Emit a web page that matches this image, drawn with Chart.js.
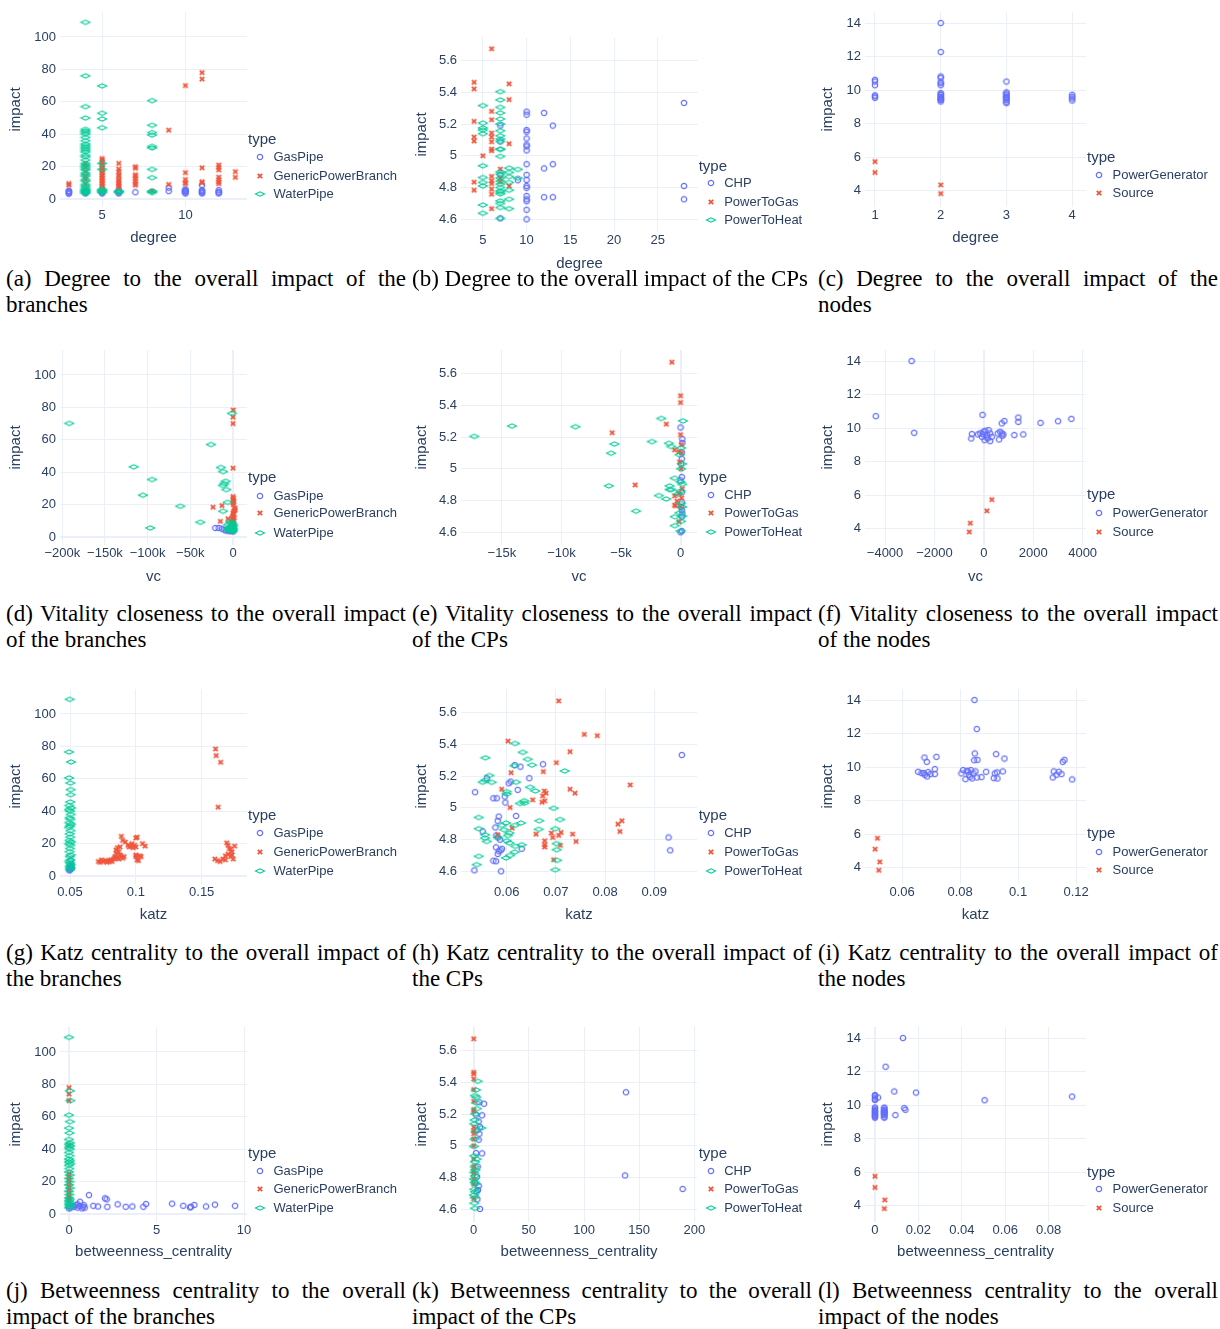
<!DOCTYPE html>
<html>
<head>
<meta charset="utf-8">
<script src="https://cdn.jsdelivr.net/npm/chart.js@4.4.1/dist/chart.umd.min.js"></script>
<style>
body { margin: 0; background: #fff; }
#page { position: relative; width: 1220px; height: 1329px; overflow: hidden; background: #fff; }
#page canvas { position: absolute; }
.lbl { position: absolute; font-family: "Liberation Sans", Arial, sans-serif; color: #2a3f5f; white-space: nowrap; }
.legtitle { font-size: 15px; line-height: 18px; }
.legitem { font-size: 13px; line-height: 16px; }
.cap { position: absolute; width: 400px; font-family: "Liberation Serif", "Times New Roman", serif; font-size: 23px; line-height: 26px; text-align: justify; color: #000; }
</style>
</head>
<body>
<div id="page"></div>
<script>
// series names
var branchTypes = ["GasPipe", "GenericPowerBranch", "WaterPipe"];
var cpTypes = ["CHP", "PowerToGas", "PowerToHeat"];
var nodeTypes = ["PowerGenerator", "Source"];

// tick values
var branchYTicks = [0, 20, 40, 60, 80, 100];
var cpYTicks = [4.6, 4.8, 5, 5.2, 5.4, 5.6];
var nodeYTicks = [4, 6, 8, 10, 12, 14];
var degBranchTicks = [5, 10];
var degCpTicks = [5, 10, 15, 20, 25];
var degNodeTicks = [1, 2, 3, 4];
var vcBranchTicks = [-200000, -150000, -100000, -50000, 0];
var vcCpTicks = [-15000, -10000, -5000, 0];
var vcNodeTicks = [-4000, -2000, 0, 2000, 4000];
var katzBranchTicks = [0.05, 0.1, 0.15];
var katzCpTicks = [0.06, 0.07, 0.08, 0.09];
var katzNodeTicks = [0.06, 0.08, 0.1, 0.12];
var btwBranchTicks = [0, 5, 10];
var btwCpTicks = [0, 50, 100, 150, 200];
var btwNodeTicks = [0, 0.02, 0.04, 0.06, 0.08];

// (a) degree vs impact, branches
var aGas = [[3,3.3],[3,3.8],[3,4.3],[3,4.8],[3,5.1],[4,3.5],[4,4],[4,4.5],[4,5],[5,3.5],[5,4],[5,4.5],[5,5],[5,5.5],
  [6,3.5],[6,4],[6,4.5],[6,5],[6,5.5],[7,4.2],[9,4.9],[9,7],[10,3.5],[10,4],[10,4.5],[10,5],[10,5.5],[10,6],
  [11,3.5],[11,4],[11,4.5],[11,5],[11,5.5],[11,8.6],[12,3.5],[12,4],[12,4.5],[12,5.5]];
var aPower = [[3,8.6],[3,9.6],[4,9],[4,12],[4,14],[4,17],[4,20],[4,22],
  [5,5],[5,6],[5,7],[5,8],[5,9],[5,10],[5,11],[5,12],[5,13],[5,14],[5,15],[5,16],[5,17],[5,18],[5,19],[5,20],[5,21],[5,22],[5,23],[5,24],[5,25],
  [6,7],[6,8],[6,9],[6,10],[6,11],[6,12],[6,14],[6,15],[6,17],[6,18.5],[6,22],
  [7,8.5],[7,9.5],[7,11],[7,12.5],[7,14],[7,15],[7,19],[7,20],[8,5],[9,9],[9,42.5],
  [10,9.5],[10,10.2],[10,12],[10,16.3],[10,70],[11,10],[11,10.7],[11,19.3],[11,74],[11,78],
  [12,9.5],[12,10.5],[12,12],[12,13.5],[12,18],[12,19.5],[12,21],[13,13.4],[13,16.9]];
var aWater = [[4,3.5],[4,4],[4,4.5],[4,5],[4,5.5],[4,6],[4,7],[4,8],[4,9],[4,11],[4,12],[4,14],[4,15],[4,16],[4,18],[4,19],
  [4,20],[4,21],[4,22],[4,24],[4,26],[4,27],[4,29],[4,30],[4,31],[4,32],[4,33],[4,34],[4,36],[4,38],[4,40],[4,41],[4,42],[4,43],
  [4,50],[4,57],[4,76],[4,109],[5,4],[5,4.5],[5,5],[5,5.5],[5,6],[5,18.3],[5,22],[5,44],[5,49.4],[5,52.9],[5,69.8],
  [6,4],[6,4.5],[6,5],[8,4],[8,4.5],[8,5],[8,13.2],[8,18.3],[8,31.5],[8,32.5],[8,39.5],[8,41],[8,45.5],[8,60.7]];

// (b) degree vs impact, CPs
var bChp = [[7,4.606],[7,4.88],[7,5.09],[7,5.19],[9,4.846],[10,4.6],[10,4.66],[10,4.714],[10,4.726],[10,4.747],[10,4.798],
  [10,4.81],[10,4.848],[10,4.88],[10,4.947],[10,5.034],[10,5.059],[10,5.07],[10,5.109],[10,5.152],[10,5.162],[10,5.259],[10,5.278],
  [12,4.739],[12,4.92],[12,5.27],[13,4.739],[13,4.947],[13,5.19],[28,4.726],[28,4.81],[28,5.333]];
var bGas = [[4,4.783],[4,4.834],[4,5.093],[4,5.118],[4,5.217],[4,5.421],[4,5.463],[5,5.0],
  [6,4.667],[6,4.758],[6,4.79],[6,4.825],[6,4.842],[6,4.87],[6,5.032],[6,5.042],[6,5.088],[6,5.118],[6,5.143],[6,5.227],[6,5.28],[6,5.674],
  [7,4.836],[7,4.859],[7,4.916],[8,4.81],[8,5.076],[8,5.354],[8,5.453]];
var bHeat = [[5,4.638],[5,4.69],[5,4.81],[5,4.832],[5,4.863],[5,4.937],[5,5.139],[5,5.162],[5,5.175],[5,5.206],[5,5.316],
  [7,4.606],[7,4.674],[7,4.7],[7,4.716],[7,4.76],[7,4.77],[7,4.779],[7,4.8],[7,4.821],[7,4.84],[7,4.859],[7,4.884],[7,4.899],
  [7,4.996],[7,5.04],[7,5.042],[7,5.09],[7,5.105],[7,5.126],[7,5.158],[7,5.2],[7,5.232],[7,5.27],[7,5.305],[7,5.352],[7,5.404],
  [8,4.667],[8,4.726],[8,4.783],[8,4.832],[8,4.869],[8,4.895],[8,4.922],[9,4.859],[9,4.914]];

// (c) degree vs impact, nodes
var cGen = [[1,9.54],[1,9.62],[1,9.68],[1,10.29],[1,10.51],[1,10.61],
  [2,9.32],[2,9.4],[2,9.45],[2,9.5],[2,9.55],[2,9.6],[2,9.7],[2,9.75],[2,9.82],[2,10.29],[2,10.41],[2,10.47],[2,10.73],[2,10.81],[2,12.27],[2,14.0],
  [3,9.22],[3,9.3],[3,9.4],[3,9.5],[3,9.55],[3,9.6],[3,9.7],[3,9.8],[3,9.86],[3,10.51],[4,9.38],[4,9.5],[4,9.6],[4,9.72]];
var cSrc = [[1,5.08],[1,5.73],[2,3.82],[2,4.34]];

// (d) vitality closeness vs impact, branches
var dGas = [[-20700,5.6],[-16800,5.6],[-12900,5.2],[-10200,4.5],[-8000,4],[-6000,4.2],[-4000,3.6],[-3000,4],[-2000,3.8],
  [-1000,4.5],[0,4],[500,3.5],[-500,5],[-1500,5.5],[-2500,4.8],[200,5.2]];
var dPower = [[-23400,18.4],[-12900,19.4],[-14800,9.7],[-5900,11.3],[-2000,9.5],[-1000,12],[0,7],[1000,8],[0,9],[500,10],
  [0,11],[1500,12],[0,13],[500,14],[0,15],[1000,16],[2000,16.5],[2500,17],[2000,18],[500,20],[0,21],[1000,22],[0,23],[500,24],[0,25],
  [0,42.5],[0,70],[0,74],[300,78.4]];
var dWater = [[-191800,70.1],[-116400,43.3],[-105500,25.8],[-96900,5.6],[-94900,35.5],[-61700,19.0],[-38300,9.1],[-25800,57.1],
  [-14100,42.9],[-11700,40.4],[-10200,33.0],[-11700,31.8],[-8600,34.4],[-7800,29.3],[-6300,21.4],[-11700,15.9],[-5500,7.6],[-1200,76.3],
  [-6000,4.8],[-4500,5.5],[-4000,4],[-3500,9],[-3000,5],[-2500,6.5],[-2000,6],[-2000,9.5],[-1500,5],[-1000,7],[-1000,3.8],
  [-500,8],[-300,3.5],[0,4.5],[0,7],[0,5.5]];

// (e) vitality closeness vs impact, CPs
var eChp = [[0,4.6],[100,4.608],[100,4.698],[150,4.719],[100,4.74],[50,4.76],[100,4.79],[100,4.852],[0,4.927],[100,4.948],
  [50,5.031],[100,5.063],[100,5.104],[150,5.163],[150,5.187],[0,5.26]];
var eGas = [[-730,5.671],[0,5.46],[0,5.417],[-1200,5.281],[-5740,5.227],[0,5.215],[80,5.152],[-500,5.119],[-140,5.108],[80,5.1],
  [-80,5.042],[50,5.0],[-3810,4.898],[140,4.875],[-140,4.844],[-500,4.829],[80,4.817],[-300,4.796],[-500,4.771],[-420,4.767],
  [0,4.765],[-140,4.667]];
var eHeat = [[-17310,5.204],[-14150,5.269],[-8820,5.265],[-5550,5.156],[-5830,5.098],[-6020,4.892],[-3730,4.733],[-2410,5.171],
  [-1620,5.317],[-980,5.16],[-780,5.14],[-500,4.94],[-1820,4.831],[-1200,4.81],[-920,4.892],[-780,4.869],[-920,4.869],[-480,4.698],
  [-480,4.642],[200,5.302],[50,5.131],[-80,5.088],[140,5.031],[50,5.0],[0,4.917],[140,4.902],[0,4.86],[-220,4.84],[50,4.781],
  [140,4.76],[-80,4.723],[140,4.702],[50,4.669],[0,4.608]];

// (f) vitality closeness vs impact, nodes
var fGen = [[-2926,14.0],[-4376,10.71],[-2819,9.72],[-54,10.79],[-510,9.38],[-483,9.64],[-242,9.62],[-148,9.68],[-80,9.48],
  [-13,9.78],[54,9.84],[121,9.58],[161,9.38],[188,9.88],[255,9.68],[322,9.48],[27,9.28],[255,9.22],[121,9.44],[-40,9.64],
  [564,9.68],[617,9.32],[658,9.78],[725,9.68],[752,9.54],[792,9.62],[725,10.28],[832,10.42],[1235,9.58],[1396,10.63],
  [1396,10.37],[1597,9.62],[2295,10.31],[3007,10.41],[3544,10.55]];
var fSrc = [[-591,3.8],[-550,4.32],[121,5.06],[322,5.73]];

// (g) katz vs impact, branches
var gGas = [[0.0495,3.5],[0.05,4],[0.0505,4.5],[0.051,5.5],[0.0502,5],[0.0498,6],[0.0505,9.7],[0.0512,4.8],[0.0508,6.5],[0.0493,4.2]];
var gPower = [[0.0715,9],[0.073,8.5],[0.074,10],[0.075,9],[0.077,9.5],[0.078,8.5],[0.079,9.5],[0.08,9],[0.081,10],[0.082,9],
  [0.083,10.5],[0.084,11],[0.084,12],[0.085,14],[0.085,16],[0.086,17.5],[0.087,15],[0.088,13],[0.087,10.5],[0.089,12],
  [0.086,11.5],[0.088,18],[0.09,11],[0.091,12],[0.089,24.5],[0.09,22],[0.092,21],[0.094,19],[0.095,18],[0.096,18.5],
  [0.097,20],[0.098,17.5],[0.099,19],[0.1,23.5],[0.101,24],[0.1,18],[0.105,20],[0.107,18.5],[0.1,12],[0.101,10],
  [0.102,9.5],[0.103,12.5],[0.1,13],[0.104,12],[0.1605,78.4],[0.161,74.3],[0.1644,70.2],[0.1625,42.5],[0.16,10.5],
  [0.162,9.5],[0.164,9],[0.166,10.5],[0.168,10],[0.169,20.5],[0.17,19],[0.171,17],[0.172,16.5],[0.17,13.5],[0.172,12],
  [0.173,13],[0.174,10.5],[0.175,18.5],[0.173,15],[0.168,12.5]];
var gWater = [[0.0498,109],[0.0493,76.5],[0.0508,70.4],[0.0493,60.5],[0.0503,57.4],[0.0505,53.3],[0.0505,50.2],[0.0502,45.7],
  [0.0495,43.5],[0.0508,42],[0.0492,41],[0.05,40],[0.0505,38],[0.0497,36],[0.0502,35],[0.0495,33],[0.0507,32],[0.05,31],
  [0.0493,30],[0.0504,28],[0.0498,26],[0.0502,24],[0.0496,22],[0.0506,21],[0.0494,20],[0.0502,19],[0.05,17],[0.0497,15],
  [0.0505,13],[0.0499,12],[0.0503,10],[0.0495,9],[0.0501,8],[0.0506,7],[0.0498,6],[0.0502,5],[0.05,4]];

// (h) katz vs impact, CPs
var hChp = [[0.05357,5.098],[0.05594,5.186],[0.05729,5.06],[0.05797,5.06],[0.05959,5.071],[0.05973,5.033],[0.06041,5.154],
  [0.06081,5.165],[0.06163,5.269],[0.06278,5.259],[0.06223,5.113],[0.0646,5.186],[0.06738,5.274],[0.0619,4.949],[0.05837,4.945],
  [0.05817,4.918],[0.0577,4.876],[0.05512,4.851],[0.05824,4.813],[0.05865,4.799],[0.05783,4.751],[0.05905,4.742],[0.05837,4.726],
  [0.05817,4.709],[0.05729,4.667],[0.05783,4.663],[0.05343,4.606],[0.05885,4.6],[0.06305,4.742],[0.09291,4.813],[0.09325,4.732],
  [0.09562,5.332],[0.05878,4.732],[0.0579,4.826]];
var hGas = [[0.06027,5.42],[0.06088,5.221],[0.05898,5.117],[0.06068,5.002],[0.06108,4.872],[0.05817,4.83],[0.06745,5.228],
  [0.07009,5.284],[0.07056,5.673],[0.07287,5.353],[0.07578,5.462],[0.07842,5.454],[0.07287,5.117],[0.07388,5.092],[0.06765,5.106],
  [0.06799,5.092],[0.06772,5.044],[0.06731,5.075],[0.06718,5.035],[0.06528,5.05],[0.06596,4.834],[0.06907,4.841],[0.06934,4.813],
  [0.07056,4.826],[0.07104,4.845],[0.0734,4.834],[0.07409,4.788],[0.0709,4.763],[0.06772,4.792],[0.06772,4.767],[0.06772,4.753],
  [0.06955,4.673],[0.08512,5.144],[0.08262,4.897],[0.08343,4.918],[0.08302,4.851]];
var hHeat = [[0.05567,5.315],[0.05512,5.161],[0.05567,5.173],[0.05648,5.203],[0.05695,5.16],[0.05431,4.939],[0.05431,4.868],
  [0.0556,4.83],[0.0556,4.809],[0.05594,4.788],[0.05431,4.694],[0.0539,4.642],[0.05817,4.813],[0.05898,4.889],[0.05946,4.862],
  [0.05986,4.904],[0.06027,4.826],[0.06,4.792],[0.06054,4.841],[0.06054,4.778],[0.05986,4.684],[0.06068,4.7],[0.06169,5.405],
  [0.06156,5.265],[0.0619,5.161],[0.06,5.102],[0.06,5.087],[0.06163,4.889],[0.06291,4.904],[0.06176,4.757],[0.06163,4.721],
  [0.06305,4.767],[0.06325,5.349],[0.06427,5.305],[0.06515,5.269],[0.06474,5.129],[0.06582,5.106],[0.06359,5.044],[0.06359,5.029],
  [0.06271,5.027],[0.06664,4.918],[0.06651,4.864],[0.06955,4.997],[0.06989,4.868],[0.07084,4.926],[0.07178,5.232],[0.07016,4.774],
  [0.07016,4.736],[0.07023,4.669],[0.06989,4.61]];

// (i) katz vs impact, nodes
var iGen = [[0.08494,14.0],[0.08575,12.27],[0.08506,10.81],[0.08483,10.41],[0.08598,10.43],[0.09241,10.77],[0.09529,10.51],
  [0.0677,10.57],[0.06851,10.31],[0.07184,10.61],[0.06552,9.72],[0.06667,9.64],[0.06747,9.64],[0.06782,9.54],[0.06862,9.44],
  [0.06897,9.7],[0.06977,9.58],[0.07126,9.88],[0.07126,9.58],[0.08046,9.62],[0.08103,9.82],[0.08184,9.28],[0.08229,9.78],
  [0.08276,9.74],[0.08299,9.54],[0.08345,9.42],[0.08368,9.82],[0.08414,9.32],[0.0846,9.62],[0.08529,9.74],[0.08586,9.38],
  [0.08736,9.4],[0.08897,9.72],[0.09161,9.34],[0.09195,9.62],[0.09276,9.68],[0.09287,9.32],[0.09471,9.74],[0.11195,9.38],
  [0.1123,9.74],[0.11322,9.54],[0.11402,9.72],[0.11494,9.58],[0.1154,10.31],[0.11598,10.43],[0.11862,9.26]];
var iSrc = [[0.05149,5.75],[0.05069,5.1],[0.0523,4.34],[0.05195,3.84]];

// (j) betweenness vs impact, branches
var jGas = [[0.1,4],[0.2,5],[0.3,4.5],[0.4,5.5],[0.5,4],[0.5,6],[0.6,5],[0.63,7.6],[0.75,3.5],[0.8,4.5],[0.85,5.5],[0.9,4],
  [1.14,11.7],[1.39,5.1],[1.66,4.7],[2.06,9.7],[2.15,9.1],[2.19,4.5],[2.78,6.0],[3.24,4.5],[3.62,4.7],[4.25,4.5],[4.4,6.2],
  [5.89,6.4],[6.53,5.1],[6.91,4.1],[6.97,4.5],[7.16,5.6],[7.83,4.7],[8.34,5.8],[9.49,5.1],[0,3.5],[0,5]];
var jPower = [[0,8],[0,9],[0,10],[0,11],[0,13],[0,15],[0,17],[0,19],[0,21],[0,23],[0,25],[0,42.5],[0,70],[0,74],[0,78]];
var jWater = [[0,109],[0.05,76],[0.08,70],[0,61],[0.05,57],[0,53],[0.03,50],[0,46],[0.05,44],[0,43],[0.06,42],[0,41],[0.04,40],
  [0,38],[0.03,36],[0,34],[0.05,33],[0,32],[0.07,31],[0,30],[0.02,28],[0,26],[0.04,24],[0,22],[0.03,20],[0,18],[0.05,16],
  [0,14],[0.02,12],[0,10],[0.04,9],[0,8],[0.03,7],[0,6],[0.05,5],[0,4]];

// (k) betweenness vs impact, CPs
var kChp = [[138,5.337],[137.2,4.813],[189.4,4.728],[9.4,5.265],[7.6,5.192],[5.1,5.274],[2.1,5.196],[4.5,5.154],[5.7,5.118],
  [3.3,5.101],[5.1,5.076],[4.5,5.038],[2.1,4.954],[7.6,4.952],[3.6,4.869],[3.0,4.806],[4.5,4.747],[3.9,4.722],[2.7,4.712],
  [3.3,4.663],[5.7,4.602],[1.2,4.768]];
var kGas = [[0,5.674],[0,5.463],[0,5.453],[0,5.421],[0,5.354],[0,5.28],[0,5.227],[0,5.217],[0,5.118],[0,5.093],[0,5.076],
  [0,5.042],[0,5.0],[0,4.916],[0,4.87],[0,4.842],[0,4.825],[0,4.79],[0,4.758],[0,4.667]];
var kHeat = [[3.6,5.406],[2.1,5.352],[1.2,5.316],[2.4,5.305],[2.7,5.27],[3.0,5.234],[1.5,5.2],[0.9,5.162],[0.6,5.139],[6.9,5.112],
  [1.8,5.09],[0.9,5.042],[0.3,4.996],[0.6,4.937],[2.7,4.916],[1.2,4.899],[0.9,4.869],[1.5,4.848],[0.6,4.832],[1.2,4.81],
  [0.3,4.79],[0.9,4.77],[1.8,4.76],[0.6,4.726],[1.2,4.71],[0.3,4.69],[0.9,4.674],[0.6,4.638],[1.2,4.606]];

// (l) betweenness vs impact, nodes
var lGen = [[0.0129,14.0],[0.0049,12.29],[0.0089,10.81],[0.0189,10.75],[0.0505,10.29],[0.0908,10.51],[0.0094,9.4],[0.0135,9.82],
  [0.014,9.72],[0.0014,10.45],[0,10.6],[0,10.55],[0,10.45],[0,10.35],[0,10.3],[0,9.85],[0,9.8],[0,9.7],[0,9.65],[0,9.6],[0,9.55],
  [0,9.5],[0,9.45],[0,9.4],[0,9.35],[0,9.3],[0,9.25],[0.0043,9.85],[0.0043,9.8],[0.0043,9.7],[0.0043,9.65],[0.0043,9.6],
  [0.0043,9.55],[0.0043,9.5],[0.0043,9.45],[0.0043,9.4],[0.0043,9.3],[0.0043,9.25]];
var lSrc = [[0,5.75],[0,5.08],[0.0045,4.34],[0.0043,3.82]];

// axis ranges
var branchY = [-4.9, 115.4];
var cpY = [4.52, 5.748];
var nodeY = [3.02, 14.66];

var TXT = "#2a3f5f";
var GRID = "#EBF0F8";
var SANS = '"Liberation Sans", Arial, sans-serif';
var PAD_T = 12, PAD_R = 16;

var page = document.getElementById("page");

function marker(kind) {
  var c = document.createElement("canvas");
  var g;
  if (kind == 0) {
    c.width = 8; c.height = 8;
    g = c.getContext("2d");
    g.strokeStyle = "#636efa"; g.lineWidth = 1.2;
    g.beginPath(); g.arc(4, 4, 2.7, 0, Math.PI * 2); g.stroke();
  } else if (kind == 1) {
    c.width = 8; c.height = 8;
    g = c.getContext("2d");
    g.strokeStyle = "#EF553B"; g.lineWidth = 1.8;
    g.beginPath(); g.moveTo(1.8, 1.8); g.lineTo(6.2, 6.2); g.moveTo(6.2, 1.8); g.lineTo(1.8, 6.2); g.stroke();
  } else {
    c.width = 12; c.height = 8;
    g = c.getContext("2d");
    g.strokeStyle = "#00cc96"; g.lineWidth = 1.1;
    g.beginPath(); g.moveTo(1.5, 4); g.lineTo(6, 1.8); g.lineTo(10.5, 4); g.lineTo(6, 6.2); g.closePath(); g.stroke();
  }
  return c;
}
var markers = [marker(0), marker(1), marker(2)];

function fmt(v, k) {
  var s;
  if (k && v != 0) s = Math.round(v / 1000) + "k";
  else s = String(parseFloat(v.toPrecision(6)));
  return s.replace("-", "\u2212");
}

function useTicks(list) {
  return function (s) { s.ticks = list.map(function (v) { return { value: v }; }); };
}

function label(x, y, text, cls, h) {
  var d = document.createElement("div");
  d.className = "lbl " + cls;
  d.style.left = x + "px";
  d.style.top = (y - h / 2) + "px";
  d.textContent = text;
  page.appendChild(d);
}

function makePanel(p) {
  var left = p.col, top = p.py0 - PAD_T;
  var w = p.px1 + PAD_R - left, h = p.xTitleY + 12 - top;
  var cv = document.createElement("canvas");
  cv.width = w; cv.height = h;
  cv.style.left = left + "px"; cv.style.top = top + "px";
  cv.style.width = w + "px"; cv.style.height = h + "px";
  page.appendChild(cv);

  var datasets = p.data.map(function (d, i) {
    return {
      label: p.names[i],
      data: d,
      pointStyle: markers[i],
      pointRadius: 3,
      order: 3 - i
    };
  });

  var zeroWidth = function (c) { return c.tick && c.tick.value == 0 ? 2 : 1; };

  new Chart(cv, {
    type: "scatter",
    data: { datasets: datasets },
    options: {
      responsive: false,
      animation: false,
      events: [],
      layout: { padding: { top: PAD_T, right: PAD_R, left: 0, bottom: 0 } },
      plugins: { legend: { display: false }, tooltip: { enabled: false } },
      scales: {
        x: {
          type: "linear", min: p.xr[0], max: p.xr[1],
          afterBuildTicks: useTicks(p.xTicks),
          afterFit: function (s) { s.height = h - (p.py1 - top); },
          grid: { color: GRID, lineWidth: zeroWidth, drawTicks: false },
          border: { display: false },
          ticks: { padding: 1, color: TXT, maxRotation: 0, autoSkip: false,
                   font: { family: SANS, size: 13 }, callback: function (v) { return fmt(v, p.xk); } },
          title: { display: true, text: p.xTitle, color: TXT, font: { family: SANS, size: 15 }, padding: { top: 0, bottom: 3 } }
        },
        y: {
          type: "linear", min: p.yr[0], max: p.yr[1],
          afterBuildTicks: useTicks(p.yTicks),
          afterFit: function (s) { s.width = p.px0 - left; },
          grid: { color: GRID, lineWidth: zeroWidth, drawTicks: false },
          border: { display: false },
          ticks: { padding: 4, color: TXT, autoSkip: false,
                   font: { family: SANS, size: 13 }, callback: function (v) { return fmt(v, false); } },
          title: { display: true, text: "impact", color: TXT, font: { family: SANS, size: 15 }, padding: { top: 7, bottom: 0 } }
        }
      }
    }
  });

  // legend
  label(p.leg.x, p.leg.y, "type", "legtitle", 18);
  p.names.forEach(function (n, i) {
    var y = p.leg.items[i];
    var m = marker(i);
    m.style.left = (p.leg.x + 12 - m.width / 2) + "px";
    m.style.top = (y - m.height / 2) + "px";
    page.appendChild(m);
    label(p.leg.x + 25.5, y, n, "legitem", 16);
  });

  // caption
  var c = document.createElement("div");
  c.className = "cap";
  c.style.left = (p.col + 6) + "px";
  c.style.top = p.capTop + "px";
  c.textContent = p.caption;
  page.appendChild(c);
}

var panels = [
  { col: 0, px0: 60, px1: 247, py0: 12, py1: 207, xTitleY: 238, xr: [2.47, 13.7], xTicks: degBranchTicks, yr: branchY, yTicks: branchYTicks,
    xTitle: "degree", names: branchTypes, data: [aGas, aPower, aWater],
    leg: { x: 248, y: 139, items: [157, 175.5, 194] }, capTop: 266,
    caption: "(a) Degree to the overall impact of the branches" },
  { col: 406, px0: 461, px1: 698, py0: 37, py1: 232, xTitleY: 264, xr: [2.5, 29.6], xTicks: degCpTicks, yr: cpY, yTicks: cpYTicks,
    xTitle: "degree", names: cpTypes, data: [bChp, bGas, bHeat],
    leg: { x: 698.7, y: 166, items: [183.3, 202.3, 220] }, capTop: 266,
    caption: "(b) Degree to the overall impact of the CPs" },
  { col: 812, px0: 865, px1: 1086, py0: 12, py1: 207, xTitleY: 238, xr: [0.848, 4.21], xTicks: degNodeTicks, yr: nodeY, yTicks: nodeYTicks,
    xTitle: "degree", names: nodeTypes, data: [cGen, cSrc],
    leg: { x: 1087, y: 157.3, items: [175, 193.3] }, capTop: 266,
    caption: "(c) Degree to the overall impact of the nodes" },

  { col: 0, px0: 60, px1: 247, py0: 350, py1: 545, xTitleY: 577, xr: [-202700, 16400], xTicks: vcBranchTicks, xk: true, yr: branchY, yTicks: branchYTicks,
    xTitle: "vc", names: branchTypes, data: [dGas, dPower, dWater],
    leg: { x: 248, y: 477.3, items: [495.7, 513.3, 532.7] }, capTop: 601,
    caption: "(d) Vitality closeness to the overall impact of the branches" },
  { col: 406, px0: 461, px1: 697, py0: 350, py1: 545, xTitleY: 577, xr: [-18430, 1380], xTicks: vcCpTicks, xk: true, yr: cpY, yTicks: cpYTicks,
    xTitle: "vc", names: cpTypes, data: [eChp, eGas, eHeat],
    leg: { x: 698.7, y: 476.7, items: [495, 513.3, 532.3] }, capTop: 601,
    caption: "(e) Vitality closeness to the overall impact of the CPs" },
  { col: 812, px0: 865, px1: 1086, py0: 350, py1: 545, xTitleY: 577, xr: [-4813, 4136], xTicks: vcNodeTicks, yr: nodeY, yTicks: nodeYTicks,
    xTitle: "vc", names: nodeTypes, data: [fGen, fSrc],
    leg: { x: 1087, y: 494, items: [513.3, 532.3] }, capTop: 601,
    caption: "(f) Vitality closeness to the overall impact of the nodes" },

  { col: 0, px0: 60, px1: 247, py0: 689, py1: 884, xTitleY: 915, xr: [0.0424, 0.1844], xTicks: katzBranchTicks, yr: branchY, yTicks: branchYTicks,
    xTitle: "katz", names: branchTypes, data: [gGas, gPower, gWater],
    leg: { x: 248, y: 815, items: [833.3, 851.7, 870.7] }, capTop: 940,
    caption: "(g) Katz centrality to the overall impact of the branches" },
  { col: 406, px0: 461, px1: 697, py0: 689, py1: 884, xTitleY: 915, xr: [0.0507, 0.0987], xTicks: katzCpTicks, yr: cpY, yTicks: cpYTicks,
    xTitle: "katz", names: cpTypes, data: [hChp, hGas, hHeat],
    leg: { x: 698.7, y: 815, items: [833.3, 851.7, 870.7] }, capTop: 940,
    caption: "(h) Katz centrality to the overall impact of the CPs" },
  { col: 812, px0: 865, px1: 1086, py0: 689, py1: 884, xTitleY: 915, xr: [0.0472, 0.1234], xTicks: katzNodeTicks, yr: nodeY, yTicks: nodeYTicks,
    xTitle: "katz", names: nodeTypes, data: [iGen, iSrc],
    leg: { x: 1087, y: 833.3, items: [851.7, 870] }, capTop: 940,
    caption: "(i) Katz centrality to the overall impact of the nodes" },

  { col: 0, px0: 60, px1: 247, py0: 1027, py1: 1222, xTitleY: 1252, xr: [-0.514, 10.17], xTicks: btwBranchTicks, yr: branchY, yTicks: branchYTicks,
    xTitle: "betweenness_centrality", names: branchTypes, data: [jGas, jPower, jWater],
    leg: { x: 248, y: 1153.3, items: [1171, 1189.3, 1207.7] }, capTop: 1278,
    caption: "(j) Betweenness centrality to the overall impact of the branches" },
  { col: 406, px0: 461, px1: 697, py0: 1027, py1: 1222, xTitleY: 1252, xr: [-11.5, 202.4], xTicks: btwCpTicks, yr: cpY, yTicks: cpYTicks,
    xTitle: "betweenness_centrality", names: cpTypes, data: [kChp, kGas, kHeat],
    leg: { x: 698.7, y: 1153.3, items: [1171, 1189.3, 1207.7] }, capTop: 1278,
    caption: "(k) Betweenness centrality to the overall impact of the CPs" },
  { col: 812, px0: 865, px1: 1086, py0: 1027, py1: 1222, xTitleY: 1252, xr: [-0.0046, 0.0972], xTicks: btwNodeTicks, yr: nodeY, yTicks: nodeYTicks,
    xTitle: "betweenness_centrality", names: nodeTypes, data: [lGen, lSrc],
    leg: { x: 1087, y: 1171.7, items: [1189.3, 1207.7] }, capTop: 1278,
    caption: "(l) Betweenness centrality to the overall impact of the nodes" }
];

panels.forEach(makePanel);
</script>
</body>
</html>
